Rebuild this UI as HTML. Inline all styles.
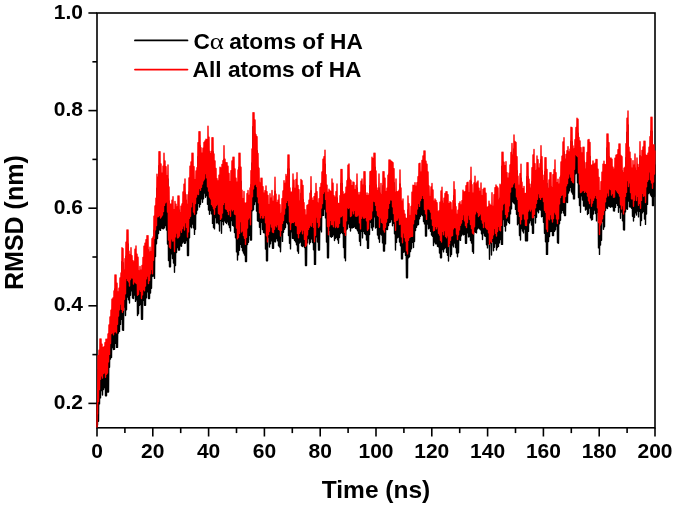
<!DOCTYPE html>
<html><head><meta charset="utf-8"><title>RMSD</title>
<style>html,body{margin:0;padding:0;background:#fff}svg{display:block}</style>
</head><body>
<svg width="675" height="507" viewBox="0 0 675 507">
<rect width="675" height="507" fill="#fff"/>
<g stroke="#000" stroke-width="1.6" fill="none" stroke-linecap="butt">
<rect x="97.0" y="13.0" width="558.0" height="414.8"/>
<line x1="97.0" y1="427.8" x2="97.0" y2="436.5"/>
<line x1="124.9" y1="427.8" x2="124.9" y2="433.1"/>
<line x1="152.8" y1="427.8" x2="152.8" y2="436.5"/>
<line x1="180.7" y1="427.8" x2="180.7" y2="433.1"/>
<line x1="208.6" y1="427.8" x2="208.6" y2="436.5"/>
<line x1="236.5" y1="427.8" x2="236.5" y2="433.1"/>
<line x1="264.4" y1="427.8" x2="264.4" y2="436.5"/>
<line x1="292.3" y1="427.8" x2="292.3" y2="433.1"/>
<line x1="320.2" y1="427.8" x2="320.2" y2="436.5"/>
<line x1="348.1" y1="427.8" x2="348.1" y2="433.1"/>
<line x1="376.0" y1="427.8" x2="376.0" y2="436.5"/>
<line x1="403.9" y1="427.8" x2="403.9" y2="433.1"/>
<line x1="431.8" y1="427.8" x2="431.8" y2="436.5"/>
<line x1="459.7" y1="427.8" x2="459.7" y2="433.1"/>
<line x1="487.6" y1="427.8" x2="487.6" y2="436.5"/>
<line x1="515.5" y1="427.8" x2="515.5" y2="433.1"/>
<line x1="543.4" y1="427.8" x2="543.4" y2="436.5"/>
<line x1="571.3" y1="427.8" x2="571.3" y2="433.1"/>
<line x1="599.2" y1="427.8" x2="599.2" y2="436.5"/>
<line x1="627.1" y1="427.8" x2="627.1" y2="433.1"/>
<line x1="655.0" y1="427.8" x2="655.0" y2="436.5"/>
<line x1="97.0" y1="403.4" x2="88.4" y2="403.4"/>
<line x1="97.0" y1="354.6" x2="92.4" y2="354.6"/>
<line x1="97.0" y1="305.8" x2="88.4" y2="305.8"/>
<line x1="97.0" y1="257.0" x2="92.4" y2="257.0"/>
<line x1="97.0" y1="208.2" x2="88.4" y2="208.2"/>
<line x1="97.0" y1="159.4" x2="92.4" y2="159.4"/>
<line x1="97.0" y1="110.6" x2="88.4" y2="110.6"/>
<line x1="97.0" y1="61.8" x2="92.4" y2="61.8"/>
<line x1="97.0" y1="13.0" x2="88.4" y2="13.0"/>
</g>
<path d="M97.0,427.6 L97.3,404.0 L97.5,425.0 L98.0,369.6 L98.5,421.2 L99.0,364.3 L99.5,403.9 L100.0,353.0 L100.5,397.9 L101.0,353.0 L101.5,390.5 L102.0,358.1 L102.5,395.0 L103.0,361.6 L103.5,389.5 L104.0,360.7 L104.5,387.6 L105.0,356.6 L105.5,395.7 L106.0,353.1 L106.5,395.7 L107.0,353.2 L107.5,392.0 L108.0,347.9 L108.5,392.0 L109.0,338.9 L109.5,367.3 L110.0,331.0 L110.5,359.0 L111.0,324.1 L111.5,357.4 L112.0,313.1 L112.5,347.5 L113.0,312.0 L113.5,349.6 L114.0,304.9 L114.5,349.2 L115.0,289.0 L115.5,343.3 L116.0,289.0 L116.5,347.4 L117.0,297.2 L117.5,347.4 L118.0,305.9 L118.5,333.1 L119.0,302.1 L119.5,331.4 L120.0,292.0 L120.5,324.4 L121.0,286.9 L121.5,319.2 L122.0,261.8 L122.5,330.0 L123.0,262.6 L123.5,330.4 L124.0,284.2 L124.5,307.0 L125.0,272.6 L125.5,315.5 L126.0,256.1 L126.5,309.8 L127.0,244.0 L127.5,297.1 L128.0,244.0 L128.5,299.8 L129.0,265.1 L129.5,303.0 L130.0,268.8 L130.5,295.3 L131.0,261.8 L131.5,290.7 L132.0,269.8 L132.5,298.0 L133.0,274.6 L133.5,298.5 L134.0,275.9 L134.5,295.0 L135.0,263.2 L135.5,301.4 L136.0,260.0 L136.5,299.8 L137.0,268.1 L137.5,315.6 L138.0,271.2 L138.5,313.7 L139.0,284.9 L139.5,305.4 L140.0,280.4 L140.5,304.4 L141.0,284.2 L141.5,319.3 L142.0,279.5 L142.5,319.3 L143.0,271.5 L143.5,300.2 L144.0,260.1 L144.5,305.2 L145.0,257.1 L145.5,305.2 L146.0,253.8 L146.5,297.8 L147.0,249.6 L147.5,291.9 L148.0,249.6 L148.5,298.5 L149.0,266.1 L149.5,298.5 L150.0,261.3 L150.5,293.0 L151.0,265.7 L151.5,288.3 L152.0,252.7 L152.5,276.2 L153.0,251.0 L153.5,276.1 L154.0,230.3 L154.5,278.4 L155.0,219.9 L155.5,256.5 L156.0,212.1 L156.5,243.7 L157.0,188.1 L157.5,238.6 L158.0,191.2 L158.5,233.6 L159.0,165.7 L159.5,229.9 L160.0,165.7 L160.5,230.4 L161.0,177.9 L161.5,228.1 L162.0,187.1 L162.5,228.6 L163.0,180.3 L163.5,228.7 L164.0,167.2 L164.5,227.8 L165.0,175.0 L165.5,225.5 L166.0,180.8 L166.5,230.1 L167.0,189.6 L167.5,244.0 L168.0,179.0 L168.5,260.6 L169.0,201.0 L169.5,266.7 L170.0,217.9 L170.5,266.7 L171.0,218.1 L171.5,253.9 L172.0,214.2 L172.5,258.5 L173.0,210.8 L173.5,263.1 L174.0,223.8 L174.5,272.2 L175.0,215.4 L175.5,265.5 L176.0,218.3 L176.5,252.5 L177.0,220.9 L177.5,247.6 L178.0,210.0 L178.5,250.0 L179.0,210.0 L179.5,250.0 L180.0,226.7 L180.5,245.8 L181.0,220.1 L181.5,246.3 L182.0,217.9 L182.5,243.0 L183.0,205.9 L183.5,241.7 L184.0,198.3 L184.5,243.4 L185.0,193.0 L185.5,243.0 L186.0,214.4 L186.5,240.5 L187.0,208.8 L187.5,255.6 L188.0,218.4 L188.5,255.6 L189.0,192.0 L189.5,237.7 L190.0,180.2 L190.5,226.5 L191.0,176.0 L191.5,227.7 L192.0,167.2 L192.5,224.1 L193.0,167.2 L193.5,227.9 L194.0,180.6 L194.5,234.4 L195.0,193.7 L195.5,229.3 L196.0,184.9 L196.5,213.7 L197.0,181.6 L197.5,210.0 L198.0,156.6 L198.5,203.4 L199.0,145.7 L199.5,207.0 L200.0,145.7 L200.5,204.3 L201.0,161.7 L201.5,198.8 L202.0,167.3 L202.5,202.2 L203.0,162.3 L203.5,198.8 L204.0,156.4 L204.5,193.1 L205.0,154.9 L205.5,197.2 L206.0,153.1 L206.5,195.5 L207.0,153.8 L207.5,204.2 L208.0,140.1 L208.5,210.0 L209.0,151.3 L209.5,214.2 L210.0,167.6 L210.5,210.5 L211.0,165.4 L211.5,213.9 L212.0,151.7 L212.5,223.4 L213.0,151.7 L213.5,227.6 L214.0,168.0 L214.5,228.9 L215.0,174.9 L215.5,217.5 L216.0,182.5 L216.5,222.9 L217.0,192.8 L217.5,222.6 L218.0,194.9 L218.5,223.9 L219.0,189.3 L219.5,231.1 L220.0,181.1 L220.5,220.5 L221.0,182.0 L221.5,233.3 L222.0,178.4 L222.5,221.4 L223.0,174.6 L223.5,224.8 L224.0,159.7 L224.5,220.7 L225.0,173.1 L225.5,222.2 L226.0,176.6 L226.5,223.5 L227.0,176.6 L227.5,221.7 L228.0,180.2 L228.5,224.9 L229.0,187.5 L229.5,227.5 L230.0,195.8 L230.5,231.0 L231.0,184.6 L231.5,220.6 L232.0,174.9 L232.5,225.3 L233.0,171.2 L233.5,226.1 L234.0,171.2 L234.5,232.5 L235.0,183.0 L235.5,237.7 L236.0,192.2 L236.5,251.9 L237.0,196.2 L237.5,260.0 L238.0,183.9 L238.5,254.9 L239.0,167.2 L239.5,250.3 L240.0,167.2 L240.5,244.2 L241.0,181.3 L241.5,247.2 L242.0,204.2 L242.5,250.8 L243.0,212.8 L243.5,253.0 L244.0,205.4 L244.5,255.1 L245.0,217.3 L245.5,261.6 L246.0,217.0 L246.5,261.6 L247.0,207.6 L247.5,244.5 L248.0,204.4 L248.5,242.2 L249.0,209.5 L249.5,235.4 L250.0,202.0 L250.5,240.0 L251.0,184.6 L251.5,240.0 L252.0,162.9 L252.5,210.7 L253.0,126.8 L253.5,209.7 L254.0,126.8 L254.5,204.5 L255.0,134.0 L255.5,201.5 L256.0,148.6 L256.5,211.1 L257.0,150.6 L257.5,220.8 L258.0,167.4 L258.5,221.2 L259.0,182.3 L259.5,227.2 L260.0,197.0 L260.5,234.4 L261.0,192.3 L261.5,222.4 L262.0,192.3 L262.5,229.5 L263.0,200.7 L263.5,232.5 L264.0,207.3 L264.5,232.9 L265.0,204.6 L265.5,249.1 L266.0,199.9 L266.5,260.7 L267.0,205.8 L267.5,260.7 L268.0,209.5 L268.5,237.1 L269.0,218.8 L269.5,247.0 L270.0,207.7 L270.5,243.7 L271.0,212.2 L271.5,240.8 L272.0,204.4 L272.5,248.2 L273.0,215.4 L273.5,248.2 L274.0,210.0 L274.5,241.6 L275.0,191.2 L275.5,241.9 L276.0,208.1 L276.5,238.5 L277.0,216.6 L277.5,240.8 L278.0,214.2 L278.5,245.8 L279.0,209.0 L279.5,247.1 L280.0,218.6 L280.5,251.8 L281.0,227.8 L281.5,235.0 L282.0,212.7 L282.5,241.4 L283.0,205.0 L283.5,232.3 L284.0,194.7 L284.5,229.3 L285.0,197.4 L285.5,227.6 L286.0,188.5 L286.5,222.3 L287.0,190.4 L287.5,223.7 L288.0,169.0 L288.5,235.6 L289.0,169.0 L289.5,243.3 L290.0,201.9 L290.5,248.9 L291.0,206.1 L291.5,231.8 L292.0,206.0 L292.5,238.3 L293.0,187.9 L293.5,238.5 L294.0,194.3 L294.5,240.3 L295.0,202.4 L295.5,241.9 L296.0,193.5 L296.5,244.8 L297.0,186.8 L297.5,251.0 L298.0,199.5 L298.5,253.3 L299.0,203.8 L299.5,243.0 L300.0,215.1 L300.5,242.0 L301.0,193.4 L301.5,245.7 L302.0,194.7 L302.5,246.5 L303.0,199.5 L303.5,245.9 L304.0,216.8 L304.5,247.6 L305.0,223.7 L305.5,265.6 L306.0,229.1 L306.5,265.6 L307.0,219.5 L307.5,242.7 L308.0,218.8 L308.5,238.5 L309.0,214.2 L309.5,244.1 L310.0,207.1 L310.5,242.3 L311.0,190.8 L311.5,238.9 L312.0,211.9 L312.5,242.5 L313.0,214.6 L313.5,249.7 L314.0,210.7 L314.5,264.4 L315.0,207.4 L315.5,264.4 L316.0,197.4 L316.5,236.9 L317.0,205.6 L317.5,242.0 L318.0,217.2 L318.5,250.0 L319.0,212.7 L319.5,250.0 L320.0,201.5 L320.5,229.9 L321.0,197.5 L321.5,231.9 L322.0,185.9 L322.5,215.6 L323.0,173.2 L323.5,215.4 L324.0,170.8 L324.5,209.1 L325.0,164.1 L325.5,217.9 L326.0,188.6 L326.5,242.0 L327.0,199.2 L327.5,257.8 L328.0,206.5 L328.5,257.8 L329.0,203.2 L329.5,230.4 L330.0,204.8 L330.5,236.5 L331.0,205.8 L331.5,237.3 L332.0,193.0 L332.5,236.4 L333.0,197.2 L333.5,234.7 L334.0,209.7 L334.5,240.6 L335.0,211.1 L335.5,238.6 L336.0,205.6 L336.5,237.2 L337.0,197.9 L337.5,239.7 L338.0,217.3 L338.5,243.3 L339.0,217.7 L339.5,237.6 L340.0,209.7 L340.5,233.5 L341.0,183.4 L341.5,232.3 L342.0,183.4 L342.5,233.6 L343.0,205.8 L343.5,247.6 L344.0,208.8 L344.5,257.9 L345.0,207.4 L345.5,260.7 L346.0,201.1 L346.5,229.7 L347.0,194.6 L347.5,228.7 L348.0,179.1 L348.5,223.8 L349.0,177.9 L349.5,227.2 L350.0,193.5 L350.5,231.1 L351.0,194.8 L351.5,227.7 L352.0,199.8 L352.5,227.9 L353.0,196.0 L353.5,227.4 L354.0,196.4 L354.5,226.6 L355.0,203.6 L355.5,228.2 L356.0,199.5 L356.5,228.9 L357.0,187.9 L357.5,230.7 L358.0,206.5 L358.5,233.2 L359.0,209.1 L359.5,241.3 L360.0,206.5 L360.5,245.6 L361.0,195.1 L361.5,231.3 L362.0,192.9 L362.5,237.9 L363.0,199.2 L363.5,231.3 L364.0,185.7 L364.5,233.5 L365.0,185.7 L365.5,234.5 L366.0,209.7 L366.5,240.1 L367.0,206.9 L367.5,248.2 L368.0,209.6 L368.5,248.2 L369.0,207.8 L369.5,234.5 L370.0,185.8 L370.5,222.4 L371.0,185.1 L371.5,227.8 L372.0,171.2 L372.5,230.2 L373.0,172.8 L373.5,226.8 L374.0,167.2 L374.5,216.9 L375.0,167.2 L375.5,228.1 L376.0,184.9 L376.5,227.2 L377.0,202.0 L377.5,235.1 L378.0,204.7 L378.5,238.8 L379.0,187.9 L379.5,242.2 L380.0,207.5 L380.5,234.1 L381.0,197.5 L381.5,235.0 L382.0,208.7 L382.5,242.9 L383.0,185.7 L383.5,251.1 L384.0,185.7 L384.5,251.1 L385.0,192.1 L385.5,243.9 L386.0,205.6 L386.5,229.4 L387.0,202.1 L387.5,229.6 L388.0,189.3 L388.5,225.6 L389.0,173.9 L389.5,222.5 L390.0,173.9 L390.5,222.0 L391.0,175.0 L391.5,219.6 L392.0,175.8 L392.5,225.8 L393.0,176.7 L393.5,223.2 L394.0,182.6 L394.5,233.7 L395.0,206.5 L395.5,250.0 L396.0,192.9 L396.5,242.4 L397.0,205.7 L397.5,237.7 L398.0,205.8 L398.5,237.0 L399.0,204.3 L399.5,242.1 L400.0,184.0 L400.5,245.8 L401.0,202.0 L401.5,258.9 L402.0,215.1 L402.5,258.9 L403.0,213.0 L403.5,252.3 L404.0,224.5 L404.5,251.7 L405.0,228.1 L405.5,255.4 L406.0,232.3 L406.5,277.8 L407.0,232.5 L407.5,277.8 L408.0,210.0 L408.5,257.7 L409.0,217.7 L409.5,256.7 L410.0,229.6 L410.5,251.5 L411.0,220.4 L411.5,248.8 L412.0,206.1 L412.5,242.4 L413.0,199.3 L413.5,247.5 L414.0,199.8 L414.5,241.6 L415.0,196.7 L415.5,230.5 L416.0,200.1 L416.5,227.3 L417.0,196.7 L417.5,225.1 L418.0,190.7 L418.5,224.6 L419.0,177.7 L419.5,218.8 L420.0,177.2 L420.5,216.3 L421.0,186.3 L421.5,214.6 L422.0,174.5 L422.5,215.5 L423.0,170.0 L423.5,221.6 L424.0,165.0 L424.5,223.9 L425.0,165.0 L425.5,236.0 L426.0,175.3 L426.5,236.0 L427.0,178.3 L427.5,224.0 L428.0,186.0 L428.5,228.7 L429.0,199.9 L429.5,228.1 L430.0,211.2 L430.5,231.3 L431.0,200.9 L431.5,235.0 L432.0,197.4 L432.5,236.2 L433.0,204.0 L433.5,245.6 L434.0,215.3 L434.5,242.1 L435.0,213.0 L435.5,243.7 L436.0,214.5 L436.5,243.7 L437.0,216.6 L437.5,246.3 L438.0,225.9 L438.5,246.9 L439.0,224.6 L439.5,253.0 L440.0,216.1 L440.5,257.8 L441.0,205.0 L441.5,257.8 L442.0,201.2 L442.5,249.6 L443.0,217.4 L443.5,251.9 L444.0,212.1 L444.5,248.7 L445.0,207.5 L445.5,247.6 L446.0,205.7 L446.5,252.4 L447.0,205.7 L447.5,255.2 L448.0,208.6 L448.5,261.1 L449.0,217.8 L449.5,244.2 L450.0,215.8 L450.5,256.6 L451.0,216.6 L451.5,254.5 L452.0,224.3 L452.5,245.1 L453.0,214.6 L453.5,246.9 L454.0,195.7 L454.5,243.1 L455.0,203.6 L455.5,247.5 L456.0,220.8 L456.5,253.1 L457.0,228.5 L457.5,256.7 L458.0,224.1 L458.5,252.7 L459.0,217.5 L459.5,239.8 L460.0,215.7 L460.5,240.4 L461.0,218.9 L461.5,235.8 L462.0,214.7 L462.5,234.0 L463.0,204.1 L463.5,234.9 L464.0,206.0 L464.5,234.3 L465.0,205.6 L465.5,243.3 L466.0,199.7 L466.5,243.3 L467.0,196.8 L467.5,232.7 L468.0,196.3 L468.5,236.9 L469.0,206.6 L469.5,236.5 L470.0,194.4 L470.5,240.5 L471.0,181.2 L471.5,243.1 L472.0,198.6 L472.5,251.6 L473.0,207.3 L473.5,253.3 L474.0,197.0 L474.5,231.6 L475.0,190.1 L475.5,232.4 L476.0,197.9 L476.5,232.9 L477.0,196.1 L477.5,228.9 L478.0,194.9 L478.5,227.9 L479.0,202.1 L479.5,228.8 L480.0,205.5 L480.5,229.9 L481.0,197.0 L481.5,233.8 L482.0,209.8 L482.5,239.5 L483.0,203.5 L483.5,233.0 L484.0,202.3 L484.5,235.7 L485.0,202.3 L485.5,236.4 L486.0,207.3 L486.5,244.8 L487.0,221.6 L487.5,247.9 L488.0,220.6 L488.5,243.5 L489.0,215.1 L489.5,259.3 L490.0,218.3 L490.5,243.0 L491.0,219.8 L491.5,255.0 L492.0,206.7 L492.5,241.3 L493.0,220.5 L493.5,250.7 L494.0,208.6 L494.5,247.2 L495.0,201.6 L495.5,243.5 L496.0,199.0 L496.5,250.0 L497.0,200.5 L497.5,247.5 L498.0,202.0 L498.5,246.4 L499.0,214.1 L499.5,242.9 L500.0,198.3 L500.5,239.6 L501.0,199.3 L501.5,244.4 L502.0,166.3 L502.5,244.4 L503.0,166.3 L503.5,219.5 L504.0,176.2 L504.5,226.2 L505.0,179.7 L505.5,231.1 L506.0,175.7 L506.5,225.1 L507.0,186.6 L507.5,220.9 L508.0,192.1 L508.5,222.4 L509.0,187.2 L509.5,223.6 L510.0,179.0 L510.5,213.9 L511.0,166.5 L511.5,208.9 L512.0,157.4 L512.5,201.6 L513.0,169.3 L513.5,202.8 L514.0,149.0 L514.5,203.7 L515.0,155.5 L515.5,209.4 L516.0,156.5 L516.5,214.3 L517.0,170.7 L517.5,224.8 L518.0,190.2 L518.5,223.2 L519.0,199.5 L519.5,235.5 L520.0,187.7 L520.5,240.0 L521.0,178.3 L521.5,228.6 L522.0,196.2 L522.5,231.0 L523.0,202.7 L523.5,232.9 L524.0,200.4 L524.5,229.1 L525.0,207.8 L525.5,240.7 L526.0,207.3 L526.5,240.7 L527.0,176.8 L527.5,240.7 L528.0,176.8 L528.5,231.4 L529.0,193.1 L529.5,222.9 L530.0,198.1 L530.5,220.6 L531.0,202.2 L531.5,225.1 L532.0,181.8 L532.5,233.3 L533.0,168.9 L533.5,233.3 L534.0,163.4 L534.5,215.4 L535.0,177.8 L535.5,223.1 L536.0,184.7 L536.5,217.2 L537.0,170.0 L537.5,211.1 L538.0,173.7 L538.5,212.7 L539.0,182.3 L539.5,209.5 L540.0,177.8 L540.5,210.1 L541.0,159.7 L541.5,216.8 L542.0,170.7 L542.5,216.2 L543.0,189.1 L543.5,222.2 L544.0,194.6 L544.5,233.2 L545.0,171.7 L545.5,241.7 L546.0,171.7 L546.5,254.4 L547.0,183.4 L547.5,254.4 L548.0,202.5 L548.5,241.6 L549.0,193.9 L549.5,236.5 L550.0,186.8 L550.5,231.6 L551.0,186.8 L551.5,231.4 L552.0,202.0 L552.5,235.6 L553.0,188.7 L553.5,235.6 L554.0,183.6 L554.5,231.4 L555.0,173.9 L555.5,229.7 L556.0,186.8 L556.5,226.1 L557.0,196.7 L557.5,242.8 L558.0,193.2 L558.5,243.3 L559.0,198.3 L559.5,223.7 L560.0,191.3 L560.5,220.2 L561.0,175.9 L561.5,213.1 L562.0,170.1 L562.5,210.4 L563.0,155.9 L563.5,213.0 L564.0,151.7 L564.5,215.6 L565.0,173.1 L565.5,215.6 L566.0,168.5 L566.5,202.1 L567.0,164.7 L567.5,202.5 L568.0,160.6 L568.5,193.1 L569.0,165.9 L569.5,190.8 L570.0,163.2 L570.5,187.4 L571.0,141.2 L571.5,192.1 L572.0,141.7 L572.5,194.1 L573.0,160.0 L573.5,198.9 L574.0,163.0 L574.5,198.9 L575.0,153.8 L575.5,173.9 L576.0,141.5 L576.5,173.1 L577.0,132.3 L577.5,182.7 L578.0,133.2 L578.5,197.5 L579.0,151.4 L579.5,205.5 L580.0,155.0 L580.5,212.2 L581.0,161.6 L581.5,195.9 L582.0,166.9 L582.5,200.1 L583.0,161.2 L583.5,206.1 L584.0,161.2 L584.5,206.0 L585.0,183.1 L585.5,210.1 L586.0,176.7 L586.5,209.1 L587.0,166.5 L587.5,214.6 L588.0,154.0 L588.5,213.4 L589.0,153.4 L589.5,208.0 L590.0,156.5 L590.5,217.9 L591.0,179.5 L591.5,220.0 L592.0,179.0 L592.5,219.6 L593.0,174.9 L593.5,214.0 L594.0,178.1 L594.5,210.0 L595.0,177.3 L595.5,213.6 L596.0,173.4 L596.5,220.9 L597.0,173.4 L597.5,212.4 L598.0,183.3 L598.5,247.9 L599.0,191.5 L599.5,254.4 L600.0,204.6 L600.5,245.1 L601.0,195.7 L601.5,240.2 L602.0,186.1 L602.5,221.3 L603.0,178.3 L603.5,229.2 L604.0,175.1 L604.5,226.8 L605.0,178.6 L605.5,210.6 L606.0,178.5 L606.5,207.7 L607.0,147.9 L607.5,208.5 L608.0,147.9 L608.5,206.0 L609.0,156.6 L609.5,206.6 L610.0,172.1 L610.5,207.3 L611.0,171.9 L611.5,206.5 L612.0,173.2 L612.5,206.9 L613.0,181.1 L613.5,210.9 L614.0,183.3 L614.5,211.0 L615.0,172.1 L615.5,207.4 L616.0,169.1 L616.5,203.2 L617.0,168.6 L617.5,205.3 L618.0,163.6 L618.5,212.2 L619.0,157.9 L619.5,207.6 L620.0,157.9 L620.5,218.2 L621.0,169.5 L621.5,212.1 L622.0,170.8 L622.5,220.7 L623.0,186.7 L623.5,229.7 L624.0,182.1 L624.5,230.0 L625.0,181.2 L625.5,211.9 L626.0,157.7 L626.5,208.9 L627.0,132.2 L627.5,209.3 L628.0,125.0 L628.5,201.1 L629.0,161.2 L629.5,206.7 L630.0,166.1 L630.5,207.0 L631.0,172.8 L631.5,208.2 L632.0,182.1 L632.5,216.3 L633.0,174.6 L633.5,221.0 L634.0,179.1 L634.5,217.2 L635.0,167.9 L635.5,212.8 L636.0,184.7 L636.5,215.1 L637.0,172.0 L637.5,211.0 L638.0,178.4 L638.5,216.9 L639.0,181.7 L639.5,211.4 L640.0,155.7 L640.5,225.6 L641.0,171.0 L641.5,220.6 L642.0,164.5 L642.5,212.7 L643.0,161.0 L643.5,211.3 L644.0,155.2 L644.5,219.0 L645.0,155.2 L645.5,224.4 L646.0,169.3 L646.5,214.0 L647.0,169.4 L647.5,204.4 L648.0,167.1 L648.5,193.6 L649.0,161.3 L649.5,192.8 L650.0,150.6 L650.5,195.1 L651.0,131.2 L651.5,196.5 L652.0,131.2 L652.5,205.6 L653.0,159.3 L653.5,205.6 L654.0,158.6 L654.5,196.3 L655.0,164.6" fill="none" stroke="#000" stroke-width="1.4" stroke-linejoin="round"/>
<path d="M97.0,427.6 L97.3,404.0 L97.5,414.0 L98.0,355.6 L98.5,401.5 L99.0,350.3 L99.5,389.6 L100.0,339.0 L100.5,379.2 L101.0,339.0 L101.5,375.8 L102.0,344.1 L102.5,378.1 L103.0,347.6 L103.5,373.6 L104.0,346.7 L104.5,372.7 L105.0,342.6 L105.5,377.2 L106.0,339.1 L106.5,374.3 L107.0,339.2 L107.5,373.0 L108.0,333.9 L108.5,361.9 L109.0,324.9 L109.5,354.4 L110.0,317.0 L110.5,343.6 L111.0,310.1 L111.5,333.6 L112.0,299.1 L112.5,332.8 L113.0,298.0 L113.5,334.8 L114.0,290.9 L114.5,332.0 L115.0,275.0 L115.5,331.5 L116.0,275.0 L116.5,332.9 L117.0,283.2 L117.5,324.3 L118.0,291.9 L118.5,316.1 L119.0,288.1 L119.5,309.7 L120.0,278.0 L120.5,304.1 L121.0,272.9 L121.5,309.3 L122.0,247.8 L122.5,312.2 L123.0,248.6 L123.5,310.3 L124.0,270.2 L124.5,299.2 L125.0,258.6 L125.5,293.8 L126.0,242.1 L126.5,278.2 L127.0,230.0 L127.5,280.4 L128.0,230.0 L128.5,281.7 L129.0,251.1 L129.5,286.1 L130.0,254.8 L130.5,279.6 L131.0,247.8 L131.5,277.9 L132.0,255.8 L132.5,278.0 L133.0,260.6 L133.5,284.1 L134.0,261.9 L134.5,281.8 L135.0,249.2 L135.5,282.7 L136.0,246.0 L136.5,283.6 L137.0,254.1 L137.5,295.2 L138.0,257.2 L138.5,294.2 L139.0,270.9 L139.5,289.5 L140.0,266.4 L140.5,291.3 L141.0,270.2 L141.5,298.6 L142.0,265.5 L142.5,294.9 L143.0,257.5 L143.5,289.6 L144.0,246.1 L144.5,290.7 L145.0,243.1 L145.5,286.1 L146.0,239.8 L146.5,278.8 L147.0,235.6 L147.5,276.0 L148.0,235.6 L148.5,283.5 L149.0,252.1 L149.5,280.5 L150.0,247.3 L150.5,273.7 L151.0,251.7 L151.5,269.3 L152.0,238.7 L152.5,273.8 L153.0,237.0 L153.5,260.2 L154.0,216.3 L154.5,238.5 L155.0,205.9 L155.5,229.7 L156.0,198.1 L156.5,225.6 L157.0,174.1 L157.5,216.8 L158.0,177.2 L158.5,216.5 L159.0,151.7 L159.5,215.3 L160.0,151.7 L160.5,218.1 L161.0,163.9 L161.5,216.8 L162.0,173.1 L162.5,215.0 L163.0,166.3 L163.5,211.5 L164.0,153.2 L164.5,205.4 L165.0,161.0 L165.5,202.7 L166.0,166.8 L166.5,201.7 L167.0,175.6 L167.5,212.1 L168.0,165.0 L168.5,240.0 L169.0,187.0 L169.5,247.0 L170.0,203.9 L170.5,248.3 L171.0,204.1 L171.5,238.7 L172.0,200.2 L172.5,241.1 L173.0,196.8 L173.5,240.8 L174.0,209.8 L174.5,251.6 L175.0,201.4 L175.5,236.9 L176.0,204.3 L176.5,233.0 L177.0,206.9 L177.5,237.9 L178.0,196.0 L178.5,237.5 L179.0,196.0 L179.5,236.0 L180.0,212.7 L180.5,230.1 L181.0,206.1 L181.5,232.2 L182.0,203.9 L182.5,228.5 L183.0,191.9 L183.5,225.7 L184.0,184.3 L184.5,230.0 L185.0,179.0 L185.5,222.6 L186.0,200.4 L186.5,227.3 L187.0,194.8 L187.5,237.0 L188.0,204.4 L188.5,231.9 L189.0,178.0 L189.5,218.2 L190.0,166.2 L190.5,216.2 L191.0,162.0 L191.5,206.8 L192.0,153.2 L192.5,202.1 L193.0,153.2 L193.5,212.0 L194.0,166.6 L194.5,214.3 L195.0,179.7 L195.5,203.6 L196.0,170.9 L196.5,197.0 L197.0,167.6 L197.5,194.1 L198.0,142.6 L198.5,194.5 L199.0,131.7 L199.5,188.3 L200.0,131.7 L200.5,190.3 L201.0,147.7 L201.5,187.3 L202.0,153.3 L202.5,184.1 L203.0,148.3 L203.5,180.7 L204.0,142.4 L204.5,179.0 L205.0,140.9 L205.5,173.6 L206.0,139.1 L206.5,177.7 L207.0,139.8 L207.5,186.8 L208.0,126.1 L208.5,191.0 L209.0,137.3 L209.5,197.0 L210.0,153.6 L210.5,198.8 L211.0,151.4 L211.5,204.4 L212.0,137.7 L212.5,206.1 L213.0,137.7 L213.5,208.8 L214.0,154.0 L214.5,214.3 L215.0,160.9 L215.5,207.3 L216.0,168.5 L216.5,205.3 L217.0,178.8 L217.5,204.0 L218.0,180.9 L218.5,213.6 L219.0,175.3 L219.5,214.2 L220.0,167.1 L220.5,219.4 L221.0,168.0 L221.5,217.9 L222.0,164.4 L222.5,213.0 L223.0,160.6 L223.5,204.4 L224.0,145.7 L224.5,202.4 L225.0,159.1 L225.5,208.7 L226.0,162.6 L226.5,209.2 L227.0,162.6 L227.5,211.3 L228.0,166.2 L228.5,214.5 L229.0,173.5 L229.5,210.3 L230.0,181.8 L230.5,216.2 L231.0,170.6 L231.5,209.1 L232.0,160.9 L232.5,210.7 L233.0,157.2 L233.5,209.4 L234.0,157.2 L234.5,214.0 L235.0,169.0 L235.5,214.5 L236.0,178.2 L236.5,228.0 L237.0,182.2 L237.5,238.8 L238.0,169.9 L238.5,237.2 L239.0,153.2 L239.5,233.4 L240.0,153.2 L240.5,221.5 L241.0,167.3 L241.5,232.1 L242.0,190.2 L242.5,230.9 L243.0,198.8 L243.5,235.6 L244.0,191.4 L244.5,238.2 L245.0,203.3 L245.5,244.2 L246.0,203.0 L246.5,237.3 L247.0,193.6 L247.5,228.0 L248.0,190.4 L248.5,219.0 L249.0,195.5 L249.5,217.6 L250.0,188.0 L250.5,224.8 L251.0,170.6 L251.5,209.3 L252.0,148.9 L252.5,196.7 L253.0,112.8 L253.5,188.9 L254.0,112.8 L254.5,184.9 L255.0,120.0 L255.5,184.0 L256.0,134.6 L256.5,186.5 L257.0,136.6 L257.5,196.8 L258.0,153.4 L258.5,202.8 L259.0,168.3 L259.5,212.8 L260.0,183.0 L260.5,217.9 L261.0,178.3 L261.5,215.4 L262.0,178.3 L262.5,218.1 L263.0,186.7 L263.5,217.9 L264.0,193.3 L264.5,215.2 L265.0,190.6 L265.5,222.8 L266.0,185.9 L266.5,235.7 L267.0,191.8 L267.5,241.9 L268.0,195.5 L268.5,234.6 L269.0,204.8 L269.5,231.2 L270.0,193.7 L270.5,223.7 L271.0,198.2 L271.5,227.0 L272.0,190.4 L272.5,232.1 L273.0,201.4 L273.5,232.6 L274.0,196.0 L274.5,229.2 L275.0,177.2 L275.5,225.6 L276.0,194.1 L276.5,226.9 L277.0,202.6 L277.5,224.6 L278.0,200.2 L278.5,229.4 L279.0,195.0 L279.5,230.1 L280.0,204.6 L280.5,236.0 L281.0,213.8 L281.5,230.4 L282.0,198.7 L282.5,223.4 L283.0,191.0 L283.5,220.5 L284.0,180.7 L284.5,214.0 L285.0,183.4 L285.5,208.0 L286.0,174.5 L286.5,202.4 L287.0,176.4 L287.5,200.4 L288.0,155.0 L288.5,205.6 L289.0,155.0 L289.5,221.7 L290.0,187.9 L290.5,229.6 L291.0,192.1 L291.5,222.9 L292.0,192.0 L292.5,222.4 L293.0,173.9 L293.5,222.6 L294.0,180.3 L294.5,221.3 L295.0,188.4 L295.5,225.3 L296.0,179.5 L296.5,225.7 L297.0,172.8 L297.5,233.6 L298.0,185.5 L298.5,237.7 L299.0,189.8 L299.5,233.3 L300.0,201.1 L300.5,231.5 L301.0,179.4 L301.5,229.9 L302.0,180.7 L302.5,233.7 L303.0,185.5 L303.5,230.1 L304.0,202.8 L304.5,239.4 L305.0,209.7 L305.5,246.4 L306.0,215.1 L306.5,245.0 L307.0,205.5 L307.5,235.0 L308.0,204.8 L308.5,229.4 L309.0,200.2 L309.5,227.3 L310.0,193.1 L310.5,225.1 L311.0,176.8 L311.5,226.2 L312.0,197.9 L312.5,222.3 L313.0,200.6 L313.5,227.3 L314.0,196.7 L314.5,241.8 L315.0,193.4 L315.5,235.2 L316.0,183.4 L316.5,217.1 L317.0,191.6 L317.5,222.3 L318.0,203.2 L318.5,227.5 L319.0,198.7 L319.5,226.1 L320.0,187.5 L320.5,217.5 L321.0,183.5 L321.5,208.0 L322.0,171.9 L322.5,203.6 L323.0,159.2 L323.5,193.2 L324.0,156.8 L324.5,191.6 L325.0,150.1 L325.5,199.4 L326.0,174.6 L326.5,211.9 L327.0,185.2 L327.5,226.6 L328.0,192.5 L328.5,234.8 L329.0,189.2 L329.5,226.1 L330.0,190.8 L330.5,220.2 L331.0,191.8 L331.5,224.5 L332.0,179.0 L332.5,224.5 L333.0,183.2 L333.5,226.7 L334.0,195.7 L334.5,220.6 L335.0,197.1 L335.5,227.6 L336.0,191.6 L336.5,226.1 L337.0,183.9 L337.5,227.6 L338.0,203.3 L338.5,227.1 L339.0,203.7 L339.5,223.3 L340.0,195.7 L340.5,216.9 L341.0,169.4 L341.5,216.5 L342.0,169.4 L342.5,215.3 L343.0,191.8 L343.5,226.3 L344.0,194.8 L344.5,232.3 L345.0,193.4 L345.5,235.2 L346.0,187.1 L346.5,220.8 L347.0,180.6 L347.5,207.5 L348.0,165.1 L348.5,208.6 L349.0,163.9 L349.5,207.5 L350.0,179.5 L350.5,216.5 L351.0,180.8 L351.5,215.7 L352.0,185.8 L352.5,210.9 L353.0,182.0 L353.5,213.8 L354.0,182.4 L354.5,210.4 L355.0,189.6 L355.5,216.0 L356.0,185.5 L356.5,216.2 L357.0,173.9 L357.5,215.9 L358.0,192.5 L358.5,214.8 L359.0,195.1 L359.5,222.9 L360.0,192.5 L360.5,228.9 L361.0,181.1 L361.5,218.2 L362.0,178.9 L362.5,216.1 L363.0,185.2 L363.5,218.0 L364.0,171.7 L364.5,218.0 L365.0,171.7 L365.5,217.2 L366.0,195.7 L366.5,220.7 L367.0,192.9 L367.5,230.2 L368.0,195.6 L368.5,228.7 L369.0,193.8 L369.5,219.6 L370.0,171.8 L370.5,219.8 L371.0,171.1 L371.5,218.2 L372.0,157.2 L372.5,210.7 L373.0,158.8 L373.5,201.1 L374.0,153.2 L374.5,201.6 L375.0,153.2 L375.5,205.3 L376.0,170.9 L376.5,210.5 L377.0,188.0 L377.5,215.3 L378.0,190.7 L378.5,216.4 L379.0,173.9 L379.5,227.2 L380.0,193.5 L380.5,217.8 L381.0,183.5 L381.5,222.4 L382.0,194.7 L382.5,223.0 L383.0,171.7 L383.5,229.8 L384.0,171.7 L384.5,232.1 L385.0,178.1 L385.5,227.3 L386.0,191.6 L386.5,222.0 L387.0,188.1 L387.5,218.2 L388.0,175.3 L388.5,208.3 L389.0,159.9 L389.5,203.3 L390.0,159.9 L390.5,199.9 L391.0,161.0 L391.5,200.0 L392.0,161.8 L392.5,206.7 L393.0,162.7 L393.5,213.6 L394.0,168.6 L394.5,221.6 L395.0,192.5 L395.5,230.3 L396.0,178.9 L396.5,220.3 L397.0,191.7 L397.5,220.1 L398.0,191.8 L398.5,217.7 L399.0,190.3 L399.5,224.5 L400.0,170.0 L400.5,224.0 L401.0,188.0 L401.5,236.9 L402.0,201.1 L402.5,242.7 L403.0,199.0 L403.5,232.8 L404.0,210.5 L404.5,237.5 L405.0,214.1 L405.5,241.1 L406.0,218.3 L406.5,250.8 L407.0,218.5 L407.5,253.9 L408.0,196.0 L408.5,240.3 L409.0,203.7 L409.5,237.6 L410.0,215.6 L410.5,236.9 L411.0,206.4 L411.5,236.4 L412.0,192.1 L412.5,236.3 L413.0,185.3 L413.5,223.7 L414.0,185.8 L414.5,219.5 L415.0,182.7 L415.5,213.6 L416.0,186.1 L416.5,214.2 L417.0,182.7 L417.5,208.9 L418.0,176.7 L418.5,203.4 L419.0,163.7 L419.5,206.4 L420.0,163.2 L420.5,200.6 L421.0,172.3 L421.5,198.3 L422.0,160.5 L422.5,195.4 L423.0,156.0 L423.5,198.4 L424.0,151.0 L424.5,209.6 L425.0,151.0 L425.5,213.7 L426.0,161.3 L426.5,219.4 L427.0,164.3 L427.5,208.7 L428.0,172.0 L428.5,208.8 L429.0,185.9 L429.5,209.5 L430.0,197.2 L430.5,212.1 L431.0,186.9 L431.5,218.9 L432.0,183.4 L432.5,225.3 L433.0,190.0 L433.5,230.7 L434.0,201.3 L434.5,230.2 L435.0,199.0 L435.5,226.4 L436.0,200.5 L436.5,228.8 L437.0,202.6 L437.5,226.5 L438.0,211.9 L438.5,233.2 L439.0,210.6 L439.5,235.1 L440.0,202.1 L440.5,240.3 L441.0,191.0 L441.5,242.0 L442.0,187.2 L442.5,231.2 L443.0,203.4 L443.5,234.8 L444.0,198.1 L444.5,230.5 L445.0,193.5 L445.5,236.4 L446.0,191.7 L446.5,237.8 L447.0,191.7 L447.5,235.7 L448.0,194.6 L448.5,246.6 L449.0,203.8 L449.5,243.9 L450.0,201.8 L450.5,240.3 L451.0,202.6 L451.5,236.0 L452.0,210.3 L452.5,235.6 L453.0,200.6 L453.5,228.9 L454.0,181.7 L454.5,227.4 L455.0,189.6 L455.5,227.7 L456.0,206.8 L456.5,234.1 L457.0,214.5 L457.5,239.6 L458.0,210.1 L458.5,234.8 L459.0,203.5 L459.5,229.9 L460.0,201.7 L460.5,225.3 L461.0,204.9 L461.5,223.0 L462.0,200.7 L462.5,219.4 L463.0,190.1 L463.5,214.6 L464.0,192.0 L464.5,220.7 L465.0,191.6 L465.5,225.5 L466.0,185.7 L466.5,227.6 L467.0,182.8 L467.5,222.5 L468.0,182.3 L468.5,215.1 L469.0,192.6 L469.5,219.2 L470.0,180.4 L470.5,224.5 L471.0,167.2 L471.5,228.6 L472.0,184.6 L472.5,233.0 L473.0,193.3 L473.5,234.0 L474.0,183.0 L474.5,226.7 L475.0,176.1 L475.5,213.9 L476.0,183.9 L476.5,211.1 L477.0,182.1 L477.5,212.6 L478.0,180.9 L478.5,216.6 L479.0,188.1 L479.5,215.2 L480.0,191.5 L480.5,213.9 L481.0,183.0 L481.5,219.7 L482.0,195.8 L482.5,223.0 L483.0,189.5 L483.5,227.6 L484.0,188.3 L484.5,221.6 L485.0,188.3 L485.5,227.2 L486.0,193.3 L486.5,228.8 L487.0,207.6 L487.5,229.3 L488.0,206.6 L488.5,232.7 L489.0,201.1 L489.5,244.2 L490.0,204.3 L490.5,241.0 L491.0,205.8 L491.5,242.6 L492.0,192.7 L492.5,238.3 L493.0,206.5 L493.5,234.7 L494.0,194.6 L494.5,228.2 L495.0,187.6 L495.5,233.3 L496.0,185.0 L496.5,236.1 L497.0,186.5 L497.5,231.5 L498.0,188.0 L498.5,226.2 L499.0,200.1 L499.5,230.1 L500.0,184.3 L500.5,230.8 L501.0,185.3 L501.5,225.4 L502.0,152.3 L502.5,209.7 L503.0,152.3 L503.5,204.0 L504.0,162.2 L504.5,203.1 L505.0,165.7 L505.5,214.4 L506.0,161.7 L506.5,218.1 L507.0,172.6 L507.5,216.5 L508.0,178.1 L508.5,211.5 L509.0,173.2 L509.5,205.8 L510.0,165.0 L510.5,192.0 L511.0,152.5 L511.5,187.0 L512.0,143.4 L512.5,186.7 L513.0,155.3 L513.5,183.9 L514.0,135.0 L514.5,182.3 L515.0,141.5 L515.5,187.7 L516.0,142.5 L516.5,196.8 L517.0,156.7 L517.5,199.4 L518.0,176.2 L518.5,211.3 L519.0,185.5 L519.5,216.2 L520.0,173.7 L520.5,223.9 L521.0,164.3 L521.5,219.6 L522.0,182.2 L522.5,213.7 L523.0,188.7 L523.5,213.8 L524.0,186.4 L524.5,219.0 L525.0,193.8 L525.5,225.3 L526.0,193.3 L526.5,225.6 L527.0,162.8 L527.5,218.7 L528.0,162.8 L528.5,211.0 L529.0,179.1 L529.5,209.1 L530.0,184.1 L530.5,211.1 L531.0,188.2 L531.5,209.0 L532.0,167.8 L532.5,217.8 L533.0,154.9 L533.5,217.6 L534.0,149.4 L534.5,214.3 L535.0,163.8 L535.5,207.8 L536.0,170.7 L536.5,203.3 L537.0,156.0 L537.5,199.3 L538.0,159.7 L538.5,193.5 L539.0,168.3 L539.5,197.3 L540.0,163.8 L540.5,199.4 L541.0,145.7 L541.5,197.3 L542.0,156.7 L542.5,197.1 L543.0,175.1 L543.5,201.5 L544.0,180.6 L544.5,210.3 L545.0,157.7 L545.5,212.3 L546.0,157.7 L546.5,229.0 L547.0,169.4 L547.5,231.5 L548.0,188.5 L548.5,218.7 L549.0,179.9 L549.5,219.8 L550.0,172.8 L550.5,214.5 L551.0,172.8 L551.5,218.7 L552.0,188.0 L552.5,222.0 L553.0,174.7 L553.5,218.5 L554.0,169.6 L554.5,212.0 L555.0,159.9 L555.5,214.0 L556.0,172.8 L556.5,218.9 L557.0,182.7 L557.5,223.5 L558.0,179.2 L558.5,218.9 L559.0,184.3 L559.5,203.9 L560.0,177.3 L560.5,197.5 L561.0,161.9 L561.5,195.3 L562.0,156.1 L562.5,194.9 L563.0,141.9 L563.5,202.4 L564.0,137.7 L564.5,202.6 L565.0,159.1 L565.5,196.5 L566.0,154.5 L566.5,185.7 L567.0,150.7 L567.5,183.5 L568.0,146.6 L568.5,178.1 L569.0,151.9 L569.5,173.9 L570.0,149.2 L570.5,177.1 L571.0,127.2 L571.5,180.4 L572.0,127.7 L572.5,182.0 L573.0,146.0 L573.5,182.7 L574.0,149.0 L574.5,169.2 L575.0,139.8 L575.5,154.3 L576.0,127.5 L576.5,155.5 L577.0,118.3 L577.5,156.5 L578.0,119.2 L578.5,172.9 L579.0,137.4 L579.5,184.0 L580.0,141.0 L580.5,192.5 L581.0,147.6 L581.5,192.0 L582.0,152.9 L582.5,190.8 L583.0,147.2 L583.5,190.4 L584.0,147.2 L584.5,192.4 L585.0,169.1 L585.5,191.1 L586.0,162.7 L586.5,192.2 L587.0,152.5 L587.5,196.0 L588.0,140.0 L588.5,200.7 L589.0,139.4 L589.5,203.6 L590.0,142.5 L590.5,198.0 L591.0,165.5 L591.5,206.2 L592.0,165.0 L592.5,203.0 L593.0,160.9 L593.5,200.2 L594.0,164.1 L594.5,197.8 L595.0,163.3 L595.5,195.2 L596.0,159.4 L596.5,198.2 L597.0,159.4 L597.5,207.8 L598.0,169.3 L598.5,222.6 L599.0,177.5 L599.5,234.6 L600.0,190.6 L600.5,224.9 L601.0,181.7 L601.5,222.9 L602.0,172.1 L602.5,218.7 L603.0,164.3 L603.5,214.5 L604.0,161.1 L604.5,210.2 L605.0,164.6 L605.5,201.7 L606.0,164.5 L606.5,197.0 L607.0,133.9 L607.5,192.8 L608.0,133.9 L608.5,195.8 L609.0,142.6 L609.5,188.9 L610.0,158.1 L610.5,189.6 L611.0,157.9 L611.5,195.1 L612.0,159.2 L612.5,193.2 L613.0,167.1 L613.5,197.2 L614.0,169.3 L614.5,197.1 L615.0,158.1 L615.5,189.2 L616.0,155.1 L616.5,190.8 L617.0,154.6 L617.5,192.2 L618.0,149.6 L618.5,193.6 L619.0,143.9 L619.5,196.1 L620.0,143.9 L620.5,204.7 L621.0,155.5 L621.5,209.1 L622.0,156.8 L622.5,205.6 L623.0,172.7 L623.5,213.9 L624.0,168.1 L624.5,210.0 L625.0,167.2 L625.5,196.2 L626.0,143.7 L626.5,192.2 L627.0,118.2 L627.5,180.5 L628.0,111.0 L628.5,186.6 L629.0,147.2 L629.5,182.8 L630.0,152.1 L630.5,192.5 L631.0,158.8 L631.5,198.8 L632.0,168.1 L632.5,198.9 L633.0,160.6 L633.5,206.2 L634.0,165.1 L634.5,200.2 L635.0,153.9 L635.5,194.9 L636.0,170.7 L636.5,200.6 L637.0,158.0 L637.5,196.4 L638.0,164.4 L638.5,205.3 L639.0,167.7 L639.5,203.2 L640.0,141.7 L640.5,208.2 L641.0,157.0 L641.5,200.4 L642.0,150.5 L642.5,193.2 L643.0,147.0 L643.5,196.3 L644.0,141.2 L644.5,195.5 L645.0,141.2 L645.5,202.6 L646.0,155.3 L646.5,186.7 L647.0,155.4 L647.5,181.3 L648.0,153.1 L648.5,179.5 L649.0,147.3 L649.5,171.9 L650.0,136.6 L650.5,179.8 L651.0,117.2 L651.5,182.9 L652.0,117.2 L652.5,188.3 L653.0,145.3 L653.5,182.0 L654.0,144.6 L654.5,174.1 L655.0,150.6" fill="none" stroke="#ff0000" stroke-width="1.4" stroke-linejoin="round"/>
<line x1="135" y1="40.4" x2="187.4" y2="40.4" stroke="#000" stroke-width="1.9" stroke-linecap="round"/>
<line x1="135" y1="69.6" x2="187.4" y2="69.6" stroke="#ff0000" stroke-width="1.9" stroke-linecap="round"/>
<g font-family="'Liberation Sans', Arial, sans-serif" font-weight="bold" fill="#000">
<text x="193.6" y="48.6" font-size="22.7">C</text>
<text transform="translate(209.8,48.6) scale(1.17,1)" font-family="'Liberation Serif', 'DejaVu Serif', serif" font-weight="normal" font-size="23">α</text>
<text x="229.2" y="48.6" font-size="22.7">atoms of HA</text>
<text x="192.6" y="77.2" font-size="22.7">All atoms of HA</text>
<text x="97.0" y="458.2" font-size="21" text-anchor="middle">0</text>
<text x="152.8" y="458.2" font-size="21" text-anchor="middle">20</text>
<text x="208.6" y="458.2" font-size="21" text-anchor="middle">40</text>
<text x="264.4" y="458.2" font-size="21" text-anchor="middle">60</text>
<text x="320.2" y="458.2" font-size="21" text-anchor="middle">80</text>
<text x="376.0" y="458.2" font-size="21" text-anchor="middle">100</text>
<text x="431.8" y="458.2" font-size="21" text-anchor="middle">120</text>
<text x="487.6" y="458.2" font-size="21" text-anchor="middle">140</text>
<text x="543.4" y="458.2" font-size="21" text-anchor="middle">160</text>
<text x="599.2" y="458.2" font-size="21" text-anchor="middle">180</text>
<text x="655.0" y="458.2" font-size="21" text-anchor="middle">200</text>
<text x="83" y="409.0" font-size="21" text-anchor="end">0.2</text>
<text x="83" y="311.4" font-size="21" text-anchor="end">0.4</text>
<text x="83" y="213.8" font-size="21" text-anchor="end">0.6</text>
<text x="83" y="116.2" font-size="21" text-anchor="end">0.8</text>
<text x="83" y="18.6" font-size="21" text-anchor="end">1.0</text>
<text x="376" y="498" font-size="24.5" text-anchor="middle">Time (ns)</text>
<text transform="translate(22.8,222.6) rotate(-90)" font-size="25" text-anchor="middle">RMSD (nm)</text>
</g>
</svg>
</body></html>
